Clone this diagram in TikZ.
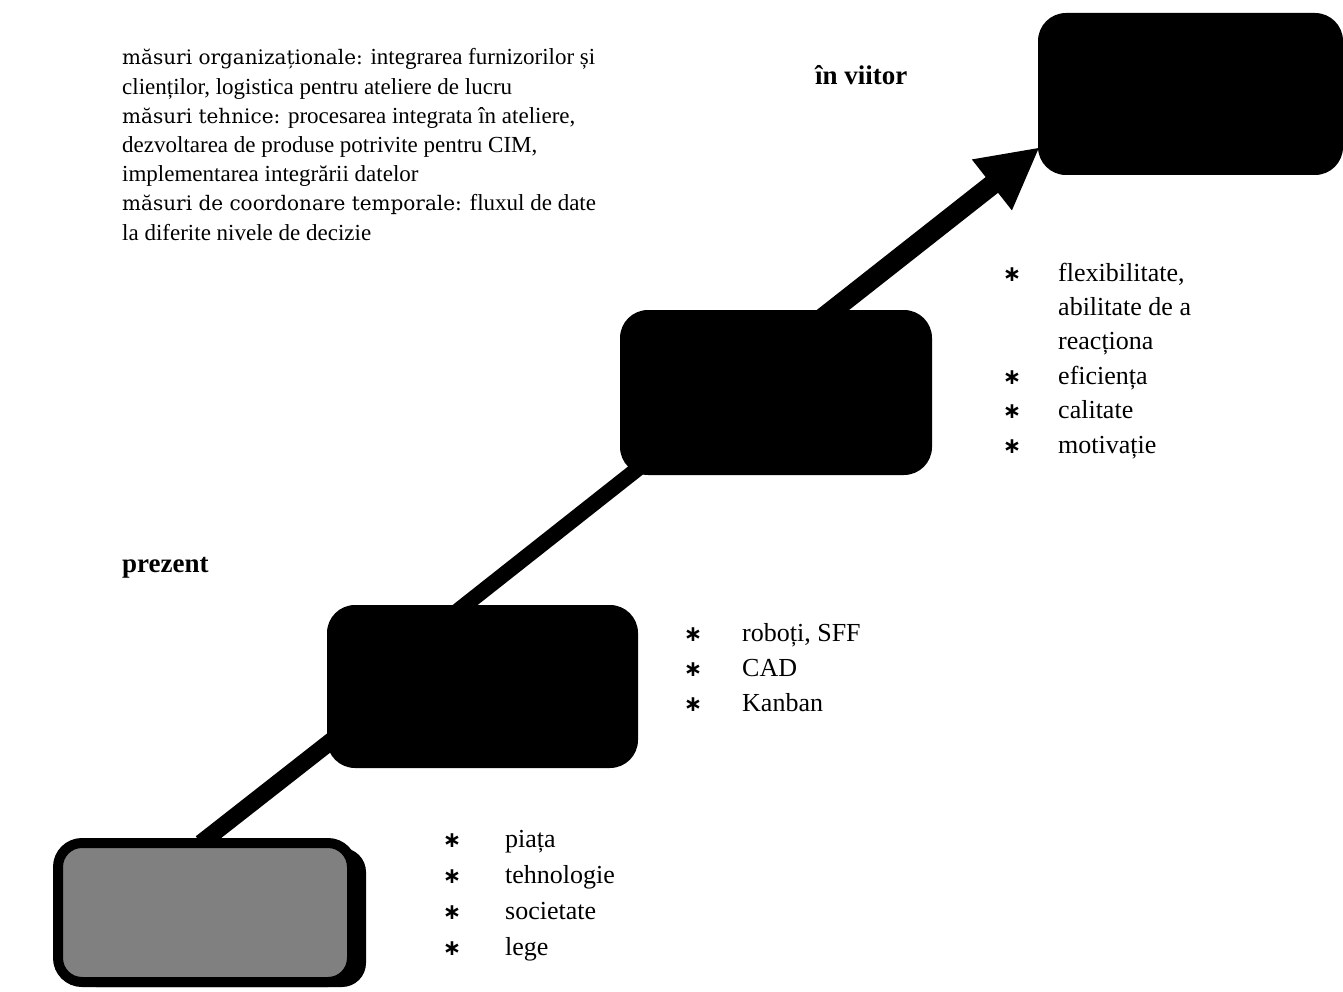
\documentclass[tikz,border=0pt]{standalone}
\usepackage{fontspec}
\setmainfont{Liberation Serif}
\newfontfamily\headfont{DejaVu Serif}
\newfontfamily\symfont{DejaVu Sans}
\usetikzlibrary{arrows.meta,calc,backgrounds,shadows}

\begin{document}
\begin{tikzpicture}[x=1pt,y=-1pt,
  stage/.style={fill=black,draw=none,rounded corners=28pt,inner sep=0pt},
  firststage/.style={draw=black,line width=10pt,fill=black!50,rounded corners=24pt,
    inner sep=0pt,minimum width=294pt,minimum height=139pt,
    drop shadow={shadow xshift=14pt,shadow yshift=-5pt,opacity=1,fill=black}},
  stair/.style={draw=black,line cap=butt},
  body/.style={font=\fontsize{23}{27}\selectfont,anchor=base west,inner sep=0pt},
  item/.style={font=\fontsize{26}{30}\selectfont,anchor=base west,inner sep=0pt},
  bul/.style={font=\fontsize{22}{30}\selectfont\symfont\bfseries,anchor=base,inner sep=0pt},
  tag/.style={font=\fontsize{27}{30}\selectfont\bfseries,anchor=base west,inner sep=0pt}]
\useasboundingbox (0,0) rectangle (1343,992);

% the four stages, bottom to top
\node[firststage] (b1) at (205,912.5) {};
\node[stage,minimum width=311pt,minimum height=163pt] (b2) at (482.5,686.5) {};
\node[stage,minimum width=312pt,minimum height=165pt] (b3) at (776,392.5) {};
\node[stage,minimum width=305pt,minimum height=162pt] (b4) at (1190.5,94) {};

% thick connectors between the stages
\begin{scope}[on background layer]
  \draw[stair,line width=17pt] ($(b1.north)+(-4,5)$) -- ($(b2.west)+(13,47.8)$);
  \draw[stair,line width=15.5pt] ($(b2.north)+(-26,7)$) -- ($(b3.south west)+(30,-16)$);
  \draw[stair,line width=20pt,-{Triangle[length=61pt,width=60pt]}]
    ($(b3.north)+(47,8)$) -- ($(b4.south west)+(2,-28)$);
\end{scope}

% measures
\node[body] (m1) at (122,65) {{\headfont\fontsize{20}{27}\selectfont măsuri organizaționale:} integrarea furnizorilor și};
\node[body] (m2) at (122,94.2) {clienților, logistica pentru ateliere de lucru};
\node[body] (m3) at (122,123.4) {{\headfont\fontsize{20}{27}\selectfont măsuri tehnice:} procesarea integrata în ateliere,};
\node[body] (m4) at (122,152.6) {dezvoltarea de produse potrivite pentru CIM,};
\node[body] (m5) at (122,181.8) {implementarea integrării datelor};
\node[body] (m6) at (122,211) {{\headfont\fontsize{20}{27}\selectfont măsuri de coordonare temporale:} fluxul de date};
\node[body] (m7) at (122,240.2) {la diferite nivele de decizie};

% time labels
\node[tag] (now) at (122,572) {prezent};
\node[tag] (future) at (815,85) {în viitor};

% factor lists
\foreach \t [count=\i] in {piața, tehnologie, societate, lege} {
  \node[bul] (pb\i) at (452,{847+36*(\i-1)}) {∗};
  \node[item] (pt\i) at (505,{847+36*(\i-1)}) {\t};
}
\foreach \t [count=\i] in {{roboți, SFF}, CAD, Kanban} {
  \node[bul] (rb\i) at (693,{641+35*(\i-1)}) {∗};
  \node[item] (rt\i) at (742,{641+35*(\i-1)}) {\t};
}
\node[bul] (fb1) at (1012,281) {∗};
\node[item] (ft1) at (1058,281) {flexibilitate,};
\node[item] (ft2) at (1058,315) {abilitate de a};
\node[item] (ft3) at (1058,349) {reacționa};
\node[bul] (fb4) at (1012,384) {∗};
\node[item] (ft4) at (1058,384) {eficiența};
\node[bul] (fb5) at (1012,418) {∗};
\node[item] (ft5) at (1058,418) {calitate};
\node[bul] (fb6) at (1012,453) {∗};
\node[item] (ft6) at (1058,453) {motivație};
\end{tikzpicture}
\end{document}
